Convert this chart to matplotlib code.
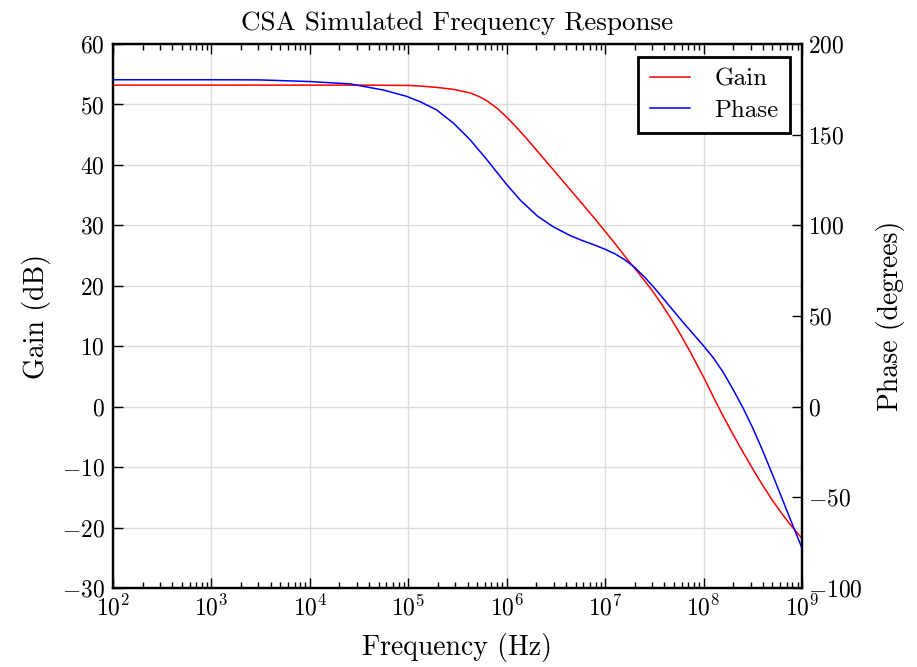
import matplotlib
matplotlib.use("Agg")
import matplotlib.pyplot as plt
import numpy as np

plt.rcParams['font.family'] = 'serif'
plt.rcParams['font.serif'] = ['cmr10']
plt.rcParams['mathtext.fontset'] = 'cm'
plt.rcParams['axes.formatter.use_mathtext'] = True
plt.rcParams['axes.unicode_minus'] = True

# log10 of frequency (Hz) and readings from the plot
gain_logf = [2.0, 3.0, 4.0, 4.5, 5.0, 5.12, 5.3, 5.46, 5.63, 5.72, 5.8, 5.9, 6.0,
             6.1, 6.2, 6.3, 6.41, 6.52, 6.64, 6.75, 6.9, 7.0, 7.1, 7.2, 7.33,
             7.46, 7.56, 7.66, 7.76, 7.86, 8.0, 8.1, 8.2, 8.3, 8.4, 8.5, 8.6,
             8.7, 8.8, 8.9, 9.0]
gain_db = [53.2, 53.2, 53.2, 53.2, 53.15, 53.05, 52.8, 52.5, 51.9, 51.3, 50.6,
           49.4, 47.9, 46.2, 44.4, 42.5, 40.4, 38.3, 36.0, 33.9, 31.0, 29.0,
           27.0, 24.9, 22.3, 19.6, 17.3, 14.8, 12.1, 9.2, 4.9, 1.6, -1.6, -4.6,
           -7.5, -10.3, -13.0, -15.5, -17.8, -19.9, -21.8]

phase_logf = [2.0, 3.0, 3.5, 4.0, 4.41, 4.75, 4.98, 5.12, 5.29, 5.46, 5.63, 5.8,
              5.9, 6.0, 6.14, 6.31, 6.47, 6.64, 6.75, 6.9, 7.0, 7.1, 7.2, 7.3,
              7.4, 7.5, 7.6, 7.7, 7.8, 7.9, 8.0, 8.1, 8.2, 8.3, 8.4, 8.5,
              8.6, 8.7, 8.8, 8.9, 9.0]
phase_deg = [180.3, 180.3, 180.2, 179.3, 178.0, 174.6, 171.2, 168.2, 163.6, 156.3,
             147.1, 136.1, 129.3, 122.5, 113.8, 105.2, 99.3, 94.5, 92.0, 89.0,
             86.8, 84.3, 81.0, 76.8, 71.5, 65.5, 59.0, 52.5, 46.0, 39.8, 33.5,
             26.9, 18.9, 9.5, -0.6, -11.8, -24.2, -37.4, -51.0, -64.6, -78.0]

freq_ticks = [1e2, 1e3, 1e4, 1e5, 1e6, 1e7, 1e8, 1e9]
gain_ticks = list(range(-30, 61, 10))
phase_ticks = list(range(-100, 201, 50))

gain_freq = 10 ** np.array(gain_logf)
phase_freq = 10 ** np.array(phase_logf)

fig = plt.figure(figsize=(9.17, 6.67), dpi=100)
ax = fig.add_axes([0.1232, 0.1184, 0.7514, 0.8156])
ax2 = ax.twinx()

l1, = ax.plot(gain_freq, gain_db, color='red', lw=1.1, label='Gain')
l2, = ax2.plot(phase_freq, phase_deg, color='blue', lw=1.1, label='Phase')

ax.set_xscale('log')
ax.set_xticks(freq_ticks)
ax.set_xlim(1e2, 1e9)
ax.set_ylim(-30, 60)
ax2.set_ylim(-100, 200)
ax.set_yticks(gain_ticks)
ax2.set_yticks(phase_ticks)

ax.grid(True, which='major', color='#dcdcdc', lw=1.0)
ax.set_axisbelow(True)

ax.tick_params(axis='x', which='both', direction='in', top=True, labelsize=17, pad=5)
ax.tick_params(axis='x', which='major', length=7, width=1)
ax.tick_params(axis='x', which='minor', length=4, width=1)
ax.tick_params(axis='y', which='both', direction='in', right=False, labelsize=17,
               length=7, width=1, pad=6)
ax2.tick_params(axis='y', direction='in', labelsize=17, length=7, width=1, pad=4)
ax.xaxis.set_minor_locator(matplotlib.ticker.LogLocator(base=10, subs=np.arange(2, 10)))
ax.xaxis.set_minor_formatter(matplotlib.ticker.NullFormatter())

for a in (ax, ax2):
    for s in a.spines.values():
        s.set_linewidth(1.6)

ax.set_xlabel('Frequency (Hz)', fontsize=20, labelpad=9)
ax.set_ylabel('Gain (dB)', fontsize=20, labelpad=8)
ax2.set_ylabel('Phase (degrees)', fontsize=20, labelpad=10)
ax.set_title('CSA Simulated Frequency Response', fontsize=19.5, pad=10)

leg = ax.legend(handles=[l1, l2], loc='upper right', fontsize=18, fancybox=False,
                edgecolor='black', framealpha=1, handlelength=1.6, handletextpad=1.0,
                borderpad=0.45, borderaxespad=0, labelspacing=0.35,
                bbox_to_anchor=(0.9826, 0.976))
leg.get_frame().set_linewidth(2)

fig.savefig('out.png', dpi=100)
